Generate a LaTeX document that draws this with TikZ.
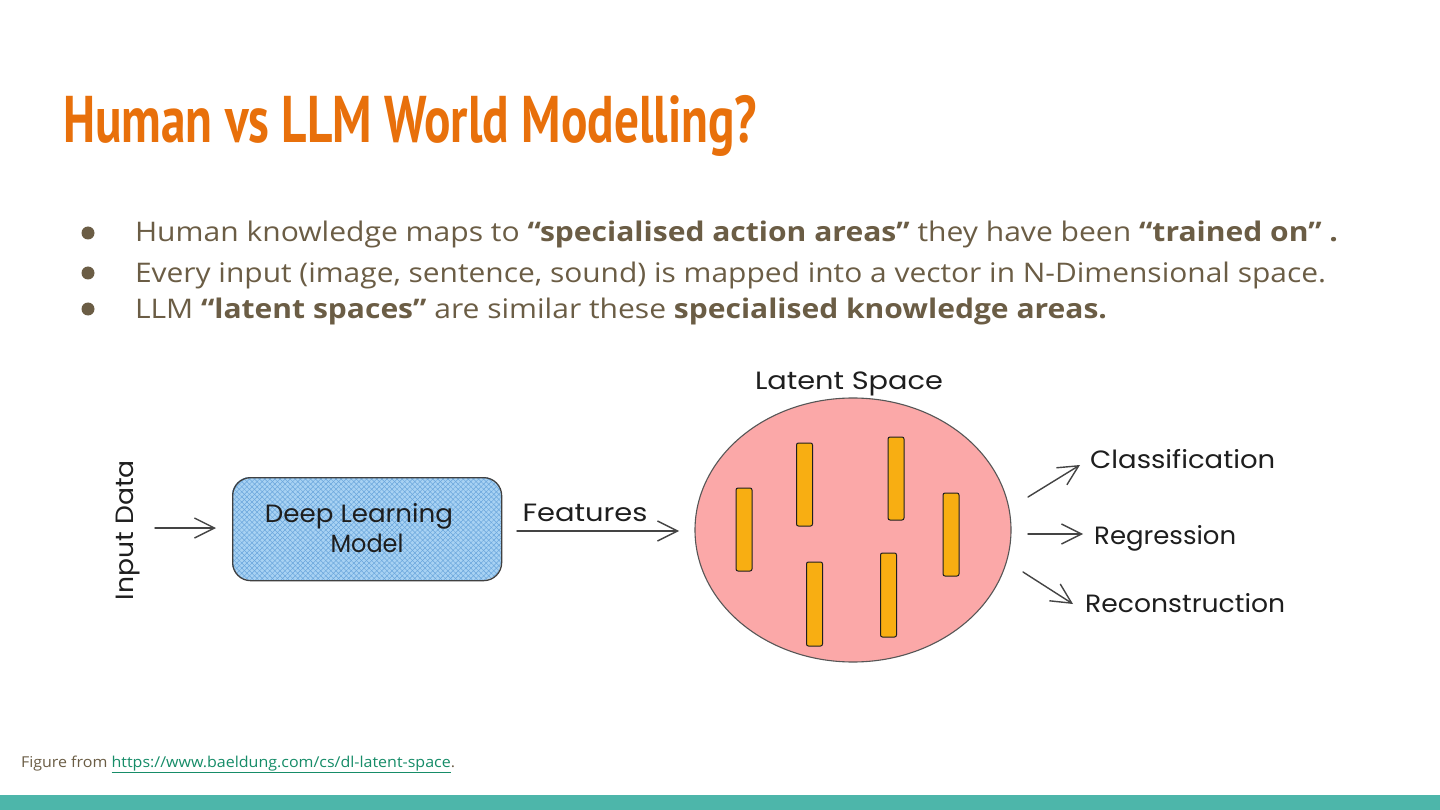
\documentclass[tikz,border=0pt]{standalone}
\usepackage{fontspec}
\setmainfont{Open Sans}
\newfontfamily\titlefont{PT Sans}
\newfontfamily\handfont{Poppins}
\usepackage{graphicx}
\usetikzlibrary{arrows.meta,patterns.meta,shapes.geometric}
\definecolor{titleor}{HTML}{E8700B}
\definecolor{bodytx}{HTML}{6B5D45}
\definecolor{linkgr}{HTML}{168C68}
\definecolor{barteal}{HTML}{4DB6AA}
\definecolor{boxblue}{HTML}{A8D2F3}
\definecolor{hatchblue}{HTML}{6AA6DC}
\definecolor{circpink}{HTML}{FBA8A8}
\definecolor{barorange}{HTML}{F8AE12}
\definecolor{inkdark}{HTML}{1E1E1E}
\definecolor{arrowgray}{HTML}{444444}
\newcommand{\fitw}[2]{\resizebox{#1}{\height}{#2}}
\tikzset{
  txt/.style={anchor=base west, inner sep=0pt, outer sep=0pt},
  body/.style={txt, text=bodytx, font=\fontsize{27}{27}\selectfont},
  hand/.style={inner sep=0pt, text=inkdark, font=\handfont\fontsize{25}{28}\selectfont},
  sketch/.style={draw=inkdark, line width=1.1pt},
  flow/.style={draw=arrowgray, line width=1.4pt, line cap=round, -{Straight Barb[length=20pt,width=20pt,line width=1.4pt]}},
  latbar/.style={draw=inkdark, line width=1pt, fill=barorange, rounded corners=2pt},
}
\begin{document}
\begin{tikzpicture}[x=1pt,y=-1pt]
\useasboundingbox (0,0) rectangle (1440,810);
\fill[white] (0,0) rectangle (1440,810);
% title
\node[txt, text=titleor] (title) at (63,143)
  {\fitw{694pt}{\titlefont\bfseries\fontsize{66}{66}\selectfont Human vs LLM World Modelling?}};
% bullets
\foreach \yy/\nm in {233/b1, 273/b2, 309/b3}
  \fill[bodytx] (88,\yy) circle (6.5);
\node[body] (l1) at (135,242) {\fitw{1203pt}{Human knowledge maps to \textbf{“specialised action areas”} they have been \textbf{“trained on” .}}};
\node[body] (l2) at (135,283) {\fitw{1191pt}{Every input (image, sentence, sound) is mapped into a vector in N-Dimensional space.}};
\node[body] (l3) at (135,318) {\fitw{972pt}{LLM \textbf{“latent spaces”} are similar these \textbf{specialised knowledge areas.}}};
% diagram
\node[hand, rotate=90] (input) at (128,530) {\fitw{140pt}{Input Data}};
\coordinate (inA) at (155,528);
\coordinate (inB) at (216,528);
\draw[flow] (inA) -- (inB);
\path[fill=boxblue, rounded corners=18pt] (232,477) rectangle (501,580);
\path[pattern={Lines[angle=45,distance=3.6pt,line width=0.5pt]}, pattern color=hatchblue, rounded corners=18pt] (232,477) rectangle (501,580);
\path[pattern={Lines[angle=-45,distance=3.6pt,line width=0.5pt]}, pattern color=hatchblue, rounded corners=18pt] (232,477) rectangle (501,580);
\node[sketch, draw=inkdark!85, line width=1.3pt, rounded corners=18pt, minimum width=269pt, minimum height=103pt, inner sep=0pt, anchor=north west] (dlm) at (232,477) {};
\node[hand] (dlmtext) at (359,516) {\fitw{188pt}{Deep Learning}};
\node[hand] (dlmtext2) at (367,543) {\fitw{73pt}{Model}};
\node[hand] (feat) at (585,513) {\fitw{125pt}{Features}};
\coordinate (fA) at (517,531);
\coordinate (fB) at (679,531);
\draw[flow] (fA) -- (fB);
% latent space
\node[hand] (lslabel) at (849,384) {\fitw{188pt}{Latent Space}};
\node[sketch, draw=inkdark!75, fill=circpink, ellipse, minimum width=316pt, minimum height=264pt, inner sep=0pt] (ls) at (853,530) {};
\node[latbar, minimum width=16pt, minimum height=83pt, inner sep=0pt] (v1) at (744,529.5) {};
\node[latbar, minimum width=16pt, minimum height=83pt, inner sep=0pt] (v2) at (804.5,484.5) {};
\node[latbar, minimum width=16pt, minimum height=83pt, inner sep=0pt] (v3) at (896,478.5) {};
\node[latbar, minimum width=16pt, minimum height=83pt, inner sep=0pt] (v4) at (951,534.5) {};
\node[latbar, minimum width=16pt, minimum height=84pt, inner sep=0pt] (v5) at (814.5,604) {};
\node[latbar, minimum width=16pt, minimum height=84pt, inner sep=0pt] (v6) at (888.5,595) {};
% outputs
\node[hand, anchor=west] (cls) at (1090,459) {\fitw{185pt}{Classification}};
\node[hand, anchor=west] (reg) at (1094,538) {\fitw{142pt}{Regression}};
\node[hand, anchor=west] (rec) at (1085,603) {\fitw{200pt}{Reconstruction}};
\coordinate (c1) at (1028,497);
\coordinate (c2) at (1080,465);
\coordinate (r1) at (1028,534);
\coordinate (r2) at (1083,534);
\coordinate (e1) at (1023,572);
\coordinate (e2) at (1073,604);
\draw[flow] (c1) -- (c2);
\draw[flow] (r1) -- (r2);
\draw[flow] (e1) -- (e2);
% footer
\node[txt, font=\fontsize{15}{15}\selectfont] (fig) at (21,767) {\fitw{434pt}{\textcolor{bodytx}{Figure from }\textcolor{linkgr}{\underline{https://www.baeldung.com/cs/dl-latent-space}}\textcolor{bodytx}{.}}};
\fill[barteal] (0,795) rectangle (1440,810);
\end{tikzpicture}
\end{document}
